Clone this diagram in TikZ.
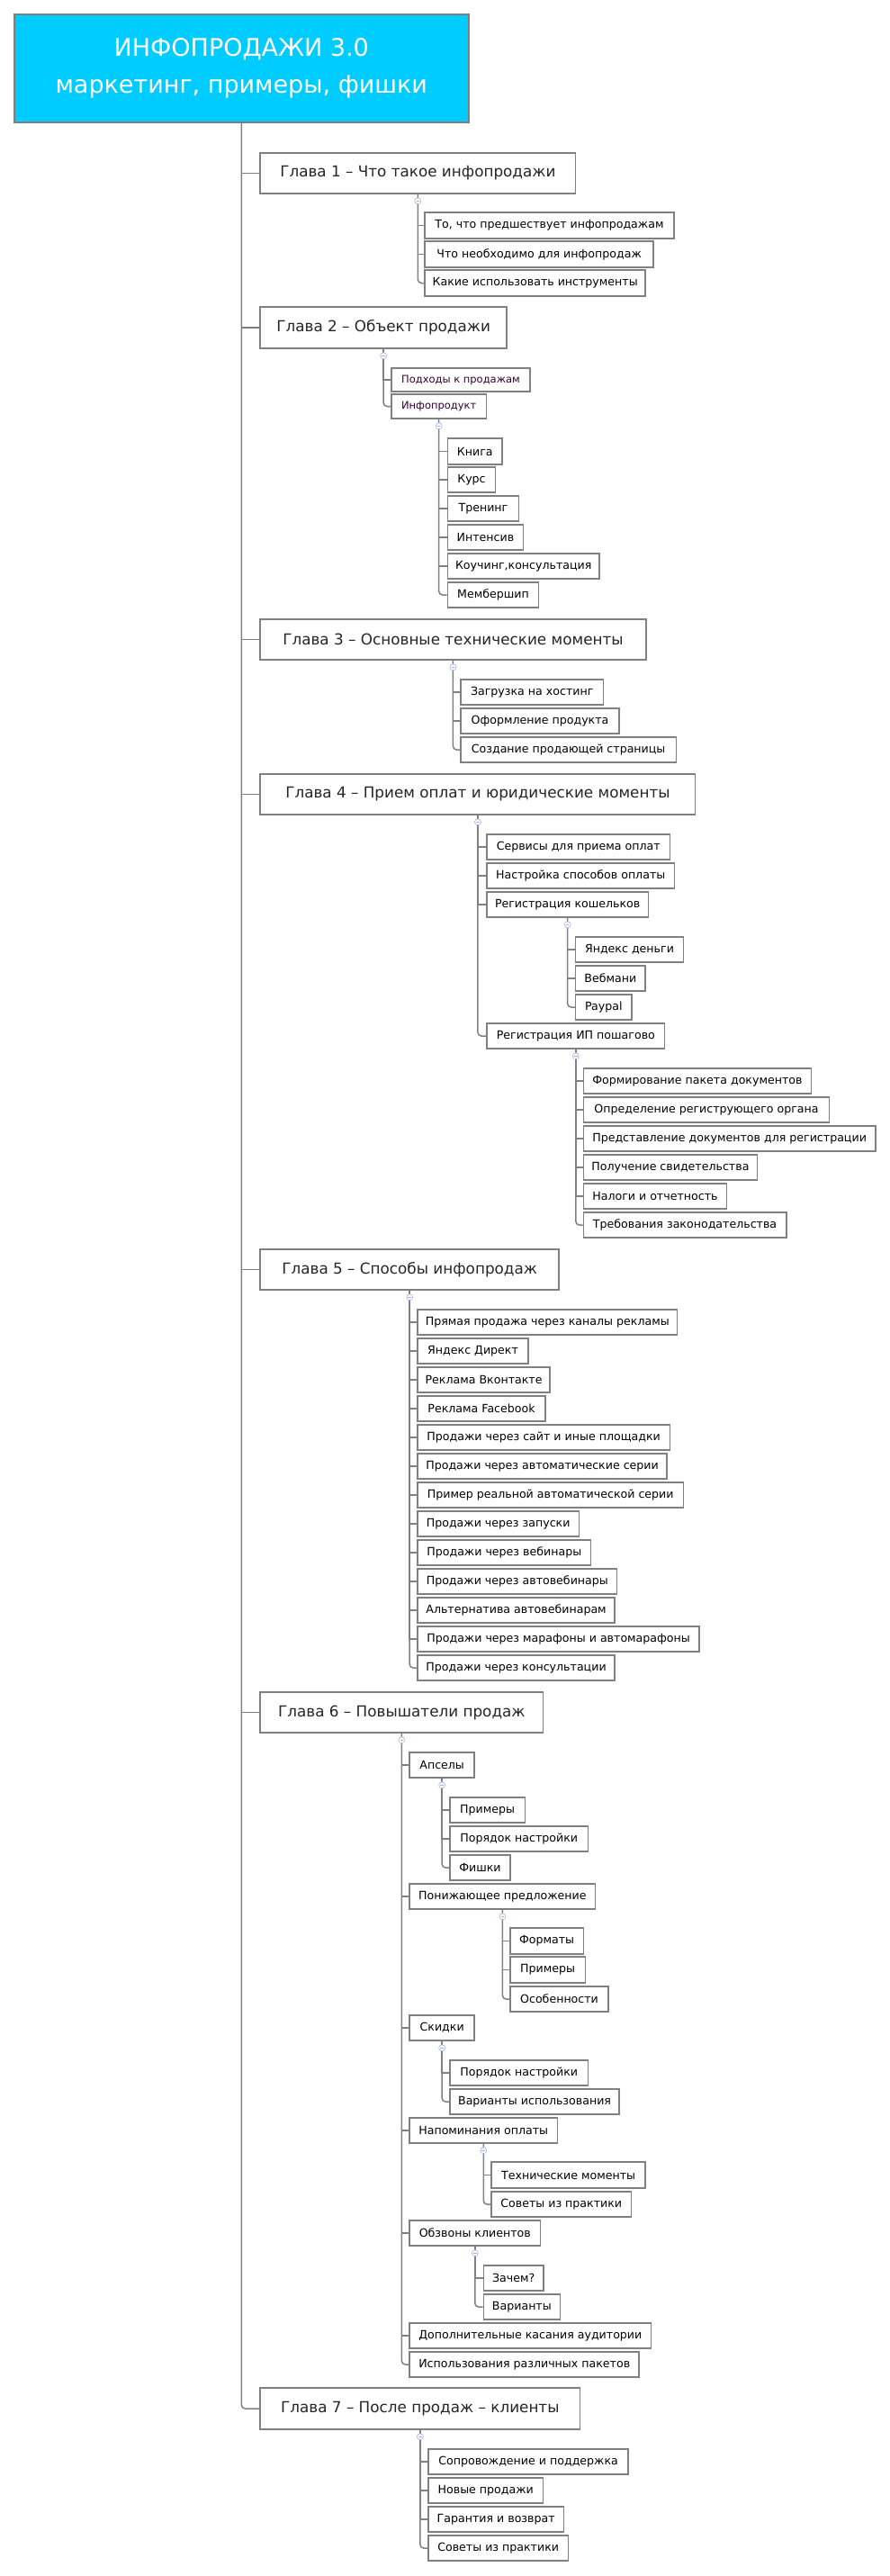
\documentclass[tikz,border=0pt]{standalone}
\usepackage{fontspec}
\setmainfont{DejaVu Sans}
\definecolor{edge}{HTML}{808080}
\definecolor{rootfill}{HTML}{00CCFF}
\definecolor{togc}{HTML}{9FB2E8}
\definecolor{purp}{HTML}{330033}
\tikzset{
 rootbox/.style={draw=edge, line width=1.5pt, fill=rootfill, text=white, align=center, inner sep=0pt, font=\fontsize{27}{41}\selectfont},
 chap/.style={draw=edge, line width=1.5pt, fill=white, inner sep=0pt, text=black!85, font=\fontsize{16.8}{19}\selectfont},
 leaf/.style={draw=edge, line width=1.5pt, fill=white, inner sep=0pt, text=black, font=\fontsize{12.6}{14}\selectfont},
 leafp/.style={leaf, text=purp, font=\fontsize{11.5}{13}\selectfont},
 conn/.style={draw=edge, line width=1.5pt},
 lastconn/.style={conn, rounded corners=4pt},
 tog/.style={circle, draw=togc, fill=white, line width=0.6pt, minimum size=7pt, inner sep=0pt,
   path picture={\draw[togc, line width=0.6pt] ([xshift=-1.8pt]path picture bounding box.center) -- ([xshift=1.8pt]path picture bounding box.center);}},
}
\newcommand\bx[7]{%
  \pgfmathsetmacro\bxw{(#4-#3)*0.63131}%
  \pgfmathsetmacro\bxh{#6-#5}%
  \pgfmathsetmacro\bxx{(#3+#4)/2}%
  \pgfmathsetmacro\bxy{(#5+#6)/2}%
  \node[#1, minimum width=\bxw pt, minimum height=\bxh pt] (#2) at (\bxx,\bxy) {#7};}
\newcommand\tg[1]{\node[tog] (#1-t) at ([yshift=-7.5pt]#1.south) {};}
\begin{document}
\begin{tikzpicture}[x=0.63131pt, y=-1pt]
\useasboundingbox (0,0) rectangle (1566.5,2862);
% root
\bx{rootbox}{root}{25}{825}{16}{136}{ИНФОПРОДАЖИ 3.0\\маркетинг, примеры, фишки}
% chapters
\bx{chap}{G1}{458}{1013}{170}{215}{Глава 1 – Что такое инфопродажи}
\bx{chap}{G2}{458}{892}{341}{387}{Глава 2 – Объект продажи}
\bx{chap}{G3}{458}{1137}{688}{733}{Глава 3 – Основные технические моменты}
\bx{chap}{G4}{458}{1224}{860}{905}{Глава 4 – Прием оплат и юридические моменты}
\bx{chap}{G5}{458}{984}{1388}{1433}{Глава 5 – Способы инфопродаж}
\bx{chap}{G6}{458}{956}{1880}{1925}{Глава 6 – Повышатели продаж}
\bx{chap}{G7}{458}{1021}{2653}{2699}{Глава 7 – После продаж – клиенты}
% chapter 1
\bx{leaf}{a1}{748}{1186}{236}{265}{То, что предшествует инфопродажам}
\bx{leaf}{a2}{748}{1150}{268}{297}{Что необходимо для инфопродаж}
\bx{leaf}{a3}{748}{1136}{300}{329}{Какие использовать инструменты}
% chapter 2
\bx{leafp}{b1}{689}{933}{409}{435}{Подходы к продажам}
\bx{leafp}{b2}{689}{856}{438}{465}{Инфопродукт}
\bx{leaf}{c1}{788}{884}{487}{516}{Книга}
\bx{leaf}{c2}{788}{872}{519}{547}{Курс}
\bx{leaf}{c3}{788}{913}{551}{579}{Тренинг}
\bx{leaf}{c4}{788}{921}{583}{611}{Интенсив}
\bx{leaf}{c5}{788}{1055}{615}{643}{Коучинг,консультация}
\bx{leaf}{c6}{788}{948}{647}{675}{Мембершип}
% chapter 3
\bx{leaf}{d1}{811}{1062}{755}{783}{Загрузка на хостинг}
\bx{leaf}{d2}{811}{1090}{787}{815}{Оформление продукта}
\bx{leaf}{d3}{811}{1190}{819}{847}{Создание продающей страницы}
% chapter 4
\bx{leaf}{e1}{857}{1179}{927}{955}{Сервисы для приема оплат}
\bx{leaf}{e2}{857}{1187}{959}{987}{Настройка способов оплаты}
\bx{leaf}{e3}{857}{1141}{991}{1019}{Регистрация кошельков}
\bx{leaf}{f1}{1013}{1203}{1041}{1069}{Яндекс деньги}
\bx{leaf}{f2}{1013}{1136}{1073}{1101}{Вебмани}
\bx{leaf}{f3}{1013}{1112}{1105}{1133}{Paypal}
\bx{leaf}{e4}{857}{1170}{1137}{1165}{Регистрация ИП пошагово}
\bx{leaf}{g1}{1027}{1428}{1187}{1215}{Формирование пакета документов}
\bx{leaf}{g2}{1027}{1460}{1219}{1247}{Определение региструющего органа}
\bx{leaf}{g3}{1027}{1541}{1251}{1279}{Представление документов для регистрации}
\bx{leaf}{g4}{1027}{1333}{1283}{1311}{Получение свидетельства}
\bx{leaf}{g5}{1027}{1279}{1315}{1343}{Налоги и отчетность}
\bx{leaf}{g6}{1027}{1384}{1347}{1375}{Требования законодательства}
% chapter 5
\bx{leaf}{h1}{735}{1192}{1455}{1483}{Прямая продажа через каналы рекламы}
\bx{leaf}{h2}{735}{930}{1487}{1515}{Яндекс Директ}
\bx{leaf}{h3}{735}{968}{1519}{1547}{Реклама Вконтакте}
\bx{leaf}{h4}{735}{960}{1551}{1579}{Реклама Facebook}
\bx{leaf}{h5}{735}{1179}{1583}{1611}{Продажи через сайт и иные площадки}
\bx{leaf}{h6}{735}{1174}{1615}{1643}{Продажи через автоматические серии}
\bx{leaf}{h7}{735}{1203}{1647}{1675}{Пример реальной автоматической серии}
\bx{leaf}{h8}{735}{1019}{1679}{1707}{Продажи через запуски}
\bx{leaf}{h9}{735}{1040}{1711}{1739}{Продажи через вебинары}
\bx{leaf}{h10}{735}{1086}{1743}{1771}{Продажи через автовебинары}
\bx{leaf}{h11}{735}{1082}{1775}{1803}{Альтернатива автовебинарам}
\bx{leaf}{h12}{735}{1231}{1807}{1835}{Продажи через марафоны и автомарафоны}
\bx{leaf}{h13}{735}{1082}{1839}{1867}{Продажи через консультации}
% chapter 6
\bx{leaf}{i1}{721}{835}{1947}{1975}{Апселы}
\bx{leaf}{j1}{792}{924}{1997}{2025}{Примеры}
\bx{leaf}{j2}{792}{1035}{2029}{2057}{Порядок настройки}
\bx{leaf}{j3}{792}{898}{2061}{2089}{Фишки}
\bx{leaf}{i2}{721}{1048}{2093}{2121}{Понижающее предложение}
\bx{leaf}{k1}{898}{1027}{2142}{2171}{Форматы}
\bx{leaf}{k2}{898}{1030}{2174}{2203}{Примеры}
\bx{leaf}{k3}{898}{1071}{2207}{2235}{Особенности}
\bx{leaf}{i3}{721}{835}{2239}{2267}{Скидки}
\bx{leaf}{l1}{792}{1035}{2289}{2317}{Порядок настройки}
\bx{leaf}{l2}{792}{1090}{2321}{2349}{Варианты использования}
\bx{leaf}{i4}{721}{981}{2353}{2381}{Напоминания оплаты}
\bx{leaf}{m1}{865}{1136}{2402}{2431}{Технические моменты}
\bx{leaf}{m2}{865}{1111}{2435}{2463}{Советы из практики}
\bx{leaf}{i5}{721}{951}{2467}{2495}{Обзвоны клиентов}
\bx{leaf}{n1}{851}{957}{2517}{2545}{Зачем?}
\bx{leaf}{n2}{851}{986}{2549}{2577}{Варианты}
\bx{leaf}{i6}{721}{1146}{2581}{2609}{Дополнительные касания аудитории}
\bx{leaf}{i7}{721}{1125}{2613}{2641}{Использования различных пакетов}
% chapter 7
\bx{leaf}{o1}{754}{1106}{2721}{2749}{Сопровождение и поддержка}
\bx{leaf}{o2}{754}{956}{2753}{2781}{Новые продажи}
\bx{leaf}{o3}{754}{992}{2785}{2813}{Гарантия и возврат}
\bx{leaf}{o4}{754}{1000}{2817}{2845}{Советы из практики}
% trunk
\foreach \g in {G1,G2,G3,G4,G5,G6} {\draw[conn] (root.south |- \g.west) -- (\g.west);}
\draw[lastconn] (root.south) |- (G7.west);
% chapter 1 links
\foreach \c in {a1,a2} {\draw[conn] (G1.south) |- (\c.west);}
\draw[lastconn] (G1.south) |- (a3.west);
% chapter 2 links
\draw[conn] (G2.south) |- (b1.west);
\draw[lastconn] (G2.south) |- (b2.west);
\foreach \c in {c1,c2,c3,c4,c5} {\draw[conn] (b2.south) |- (\c.west);}
\draw[lastconn] (b2.south) |- (c6.west);
% chapter 3 links
\foreach \c in {d1,d2} {\draw[conn] (G3.south) |- (\c.west);}
\draw[lastconn] (G3.south) |- (d3.west);
% chapter 4 links
\foreach \c in {e1,e2,e3} {\draw[conn] (G4.south) |- (\c.west);}
\draw[lastconn] (G4.south) |- (e4.west);
\foreach \c in {f1,f2} {\draw[conn] (e3.south) |- (\c.west);}
\draw[lastconn] (e3.south) |- (f3.west);
\foreach \c in {g1,g2,g3,g4,g5} {\draw[conn] (e4.south) |- (\c.west);}
\draw[lastconn] (e4.south) |- (g6.west);
% chapter 5 links
\foreach \c in {h1,h2,h3,h4,h5,h6,h7,h8,h9,h10,h11,h12} {\draw[conn] (G5.south) |- (\c.west);}
\draw[lastconn] (G5.south) |- (h13.west);
% chapter 6 links
\foreach \c in {i1,i2,i3,i4,i5,i6} {\draw[conn] (G6.south) |- (\c.west);}
\draw[lastconn] (G6.south) |- (i7.west);
\foreach \c in {j1,j2} {\draw[conn] (i1.south) |- (\c.west);}
\draw[lastconn] (i1.south) |- (j3.west);
\foreach \c in {k1,k2} {\draw[conn] (i2.south) |- (\c.west);}
\draw[lastconn] (i2.south) |- (k3.west);
\draw[conn] (i3.south) |- (l1.west);
\draw[lastconn] (i3.south) |- (l2.west);
\draw[conn] (i4.south) |- (m1.west);
\draw[lastconn] (i4.south) |- (m2.west);
\draw[conn] (i5.south) |- (n1.west);
\draw[lastconn] (i5.south) |- (n2.west);
% chapter 7 links
\foreach \c in {o1,o2,o3} {\draw[conn] (G7.south) |- (\c.west);}
\draw[lastconn] (G7.south) |- (o4.west);
% toggles
\foreach \p in {G1,G2,b2,G3,G4,e3,e4,G5,G6,i1,i2,i3,i4,i5,G7} {\tg{\p}}
\end{tikzpicture}
\end{document}
